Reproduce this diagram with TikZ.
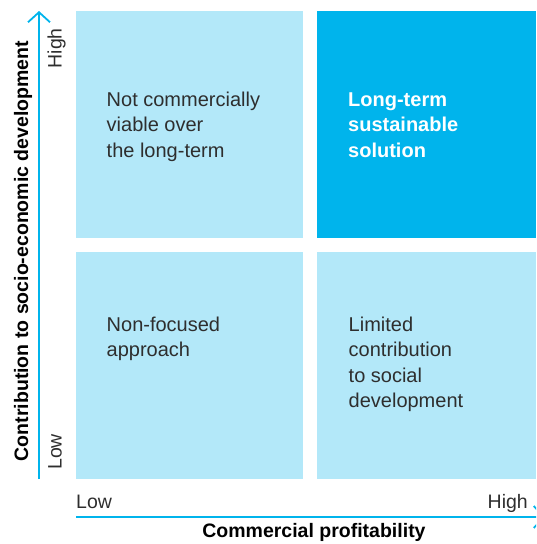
\documentclass[tikz,border=0pt]{standalone}
\usepackage{fontspec}
\setmainfont{Liberation Sans}
\usepackage{tikz}
\usetikzlibrary{arrows.meta}
\definecolor{paleblue}{HTML}{B3E8F9}
\definecolor{deepblue}{HTML}{00B4EC}
\definecolor{textgrey}{HTML}{2E2E2E}

\begin{document}
\begin{tikzpicture}
    [
        x=1pt, y=-1pt,
        cell style/.style={fill=paleblue},
        axis style/.style={line width=1.8pt, draw=deepblue, -{Straight Barb[length=10pt,width=22pt,line width=1.8pt]}},
        quad text/.style={font=\fontsize{20}{25.5}\selectfont, text=textgrey, inner sep=0pt, align=left, anchor=base west},
        tick text/.style={font=\fontsize{19.5}{25.5}\selectfont, text=textgrey, inner sep=0pt},
        title text/.style={font=\fontsize{19.5}{25.5}\selectfont\bfseries, text=black, inner sep=0pt}
    ]
    \useasboundingbox (0,0) rectangle (536,544);
    \clip (0,0) rectangle (536,544);
    % the four cells
    \fill[cell style] (76,11) rectangle (303,237.5);
    \fill[deepblue] (317,11) rectangle (536,237.5);
    \fill[cell style] (76,252) rectangle (303,479);
    \fill[cell style] (317,252) rectangle (536,479);
    % cell texts, placed at the baseline of their last line
    \node[quad text] (topleft) at (106.5,157) {Not commercially\\viable over\\the long-term};
    \node[quad text, text=white, font=\fontsize{20}{25.5}\selectfont\bfseries] (topright) at (348,157) {Long-term\\sustainable\\solution};
    \node[quad text] (bottomleft) at (106.5,356.5) {Non-focused\\approach};
    \node[quad text] (bottomright) at (348.5,407.5) {Limited\\contribution\\to social\\development};
    % axes
    \coordinate (yfoot) at (39,479);
    \coordinate (ytip) at (39,11);
    \coordinate (xfoot) at (76,517);
    \coordinate (xtip) at (545,517);
    \draw[axis style] (yfoot) -- (ytip);
    \draw[axis style] (xfoot) -- (xtip);
    \node[tick text, rotate=90, anchor=base east] (yhigh) at (61.5,28) {High};
    \node[tick text, rotate=90, anchor=base west] (ylow) at (61.5,470) {Low};
    \node[tick text, anchor=base west] (xlow) at (76,508.5) {Low};
    \node[tick text, anchor=base east] (xhigh) at (528,508.5) {High};
    \node[title text, anchor=base] (xtitle) at (314,537.5) {Commercial profitability};
    \node[title text, rotate=90, anchor=base] (ytitle) at (28,251) {Contribution to socio-economic development};
\end{tikzpicture}
\end{document}
